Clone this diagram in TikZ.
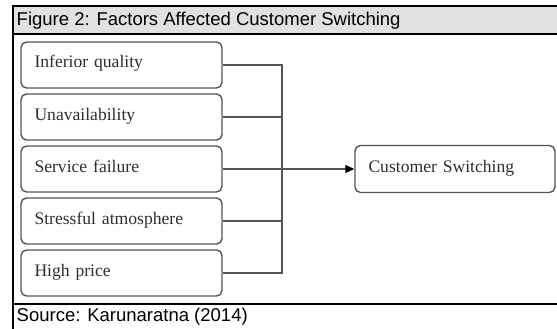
\documentclass[tikz,border=0pt]{standalone}
\usepackage{fontspec}
\setmainfont{Liberation Serif}
\newfontfamily\arialfont{Liberation Sans}
\usetikzlibrary{arrows.meta}
\definecolor{bandgray}{HTML}{E1E1E1}
\definecolor{boxgray}{HTML}{555555}
\definecolor{txtgray}{HTML}{2E2E2E}
\tikzset{
  frameline/.style={line width=2pt, black},
  fbox/.style={draw=boxgray, line width=1.4pt, rounded corners=5.5pt,
    minimum height=46pt, inner xsep=13.5pt, inner ysep=0pt,
    text height=12pt, text depth=6pt, align=left, text=txtgray,
    font=\fontsize{17.6}{20}\selectfont},
  conn/.style={draw=boxgray, line width=1.2pt},
  arr/.style={conn, -{Triangle[length=9pt,width=8pt,color=black]}},
  sanslabel/.style={anchor=west, inner sep=0pt, text=black,
    font=\arialfont\fontsize{18.5}{20}\selectfont}
}
\begin{document}
\begin{tikzpicture}[x=1pt,y=-1pt]
\useasboundingbox (0,0) rectangle (557,329);
% frame
\fill[bandgray] (13,6) rectangle (557,34);
\draw[frameline] (13,6) -- (557,6);
\draw[frameline] (13,34) -- (557,34);
\draw[frameline] (13,304) -- (557,304);
\draw[frameline] (13,5) -- (13,329);
\node[sanslabel] (title) at (16.5,20.5) {Figure 2: Factors Affected Customer Switching};
\node[sanslabel] (source) at (16.5,316.5) {Source: Karunaratna (2014)};
% factor boxes
\node[fbox, text width=174pt] (b1) at (121.5,65) {Inferior quality};
\node[fbox, text width=174pt] (b2) at (121.5,117) {Unavailability};
\node[fbox, text width=174pt] (b3) at (121.5,169) {Service failure};
\node[fbox, text width=174pt] (b4) at (121.5,221) {Stressful atmosphere};
\node[fbox, text width=174pt] (b5) at (121.5,273) {High price};
% outcome
\node[fbox, text width=173pt, minimum height=47pt] (cs) at (455,169) {Customer Switching};
% connectors
\coordinate (bus) at (282,169);
\draw[conn] (b1.east) -| (bus);
\draw[conn] (b2.east) -| (bus);
\draw[conn] (b4.east) -| (bus);
\draw[conn] (b5.east) -| (bus);
\draw[arr] (b3.east) -- (cs.west);
\end{tikzpicture}
\end{document}
